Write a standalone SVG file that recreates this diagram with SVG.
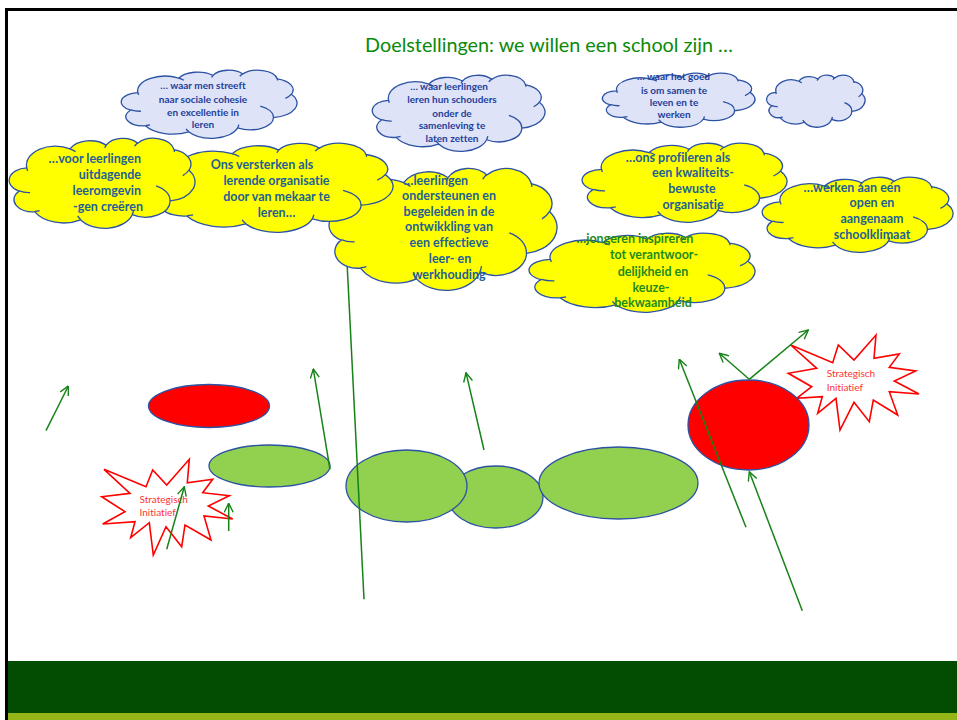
<svg xmlns="http://www.w3.org/2000/svg" xmlns:xlink="http://www.w3.org/1999/xlink" width="957" height="720" viewBox="0 0 957 720">
<style>
text{font-variant-ligatures:none;font-feature-settings:"liga" 0}
.co{stroke:#2b52a3;stroke-width:1.3;vector-effect:non-scaling-stroke}
.ci{fill:none;stroke:#2b52a3;stroke-width:1.3;vector-effect:non-scaling-stroke}
.lav{fill:#dfe3f8}
.yel{fill:#ffff00}
.t{font-family:Lato,"Liberation Sans",sans-serif;font-weight:700;text-anchor:middle}
.tl{font-size:10px;fill:#22409a}
.ty{font-size:12.5px;fill:#1f5f96}
.tg{font-size:12.5px;fill:#1d8a1d}
.ts{font-family:Lato,"Liberation Sans",sans-serif;font-size:10px;fill:#ff3333}
.title{font-family:Lato,"Liberation Sans",sans-serif;font-size:19.8px;fill:#0a8a0a;text-anchor:middle}
.star{fill:#ffffff;stroke:#ff0000;stroke-width:1.6;stroke-linejoin:miter}
.el{stroke:#2b52a3;stroke-width:1.3}
.green{fill:#92d050}
.red{fill:#ff0000}
.ar{fill:none;stroke:#178217;stroke-width:1.5;marker-end:url(#ah)}
</style>
<defs>
<marker id="ah" viewBox="0 0 10 10" refX="9.5" refY="5" markerWidth="10" markerHeight="10" markerUnits="userSpaceOnUse" orient="auto">
<path d="M0.5,0.5 L9.5,5 L0.5,9.5" fill="none" stroke="#178217" stroke-width="1.4"/>
</marker>
<symbol id="cloud" viewBox="0 0 100 100" preserveAspectRatio="none" overflow="visible">
<path class="co" d="M9.03,33.26 A15.63,21.27 0 0 1 32.42,12.04 A12.34,16.82 0 0 1 51.98,7.95 A10.10,13.76 0 0 1 69.05,5.75 A11.24,15.27 0 0 1 88.69,12.91 A12.34,16.84 0 0 1 96.79,35.79 A15.68,21.34 0 0 1 86.57,69.91 A13.39,18.21 0 0 1 66.09,85.21 A15.63,21.33 0 0 1 38.13,90.88 A17.87,24.41 0 0 1 13.41,82.09 A10.09,13.70 0 0 1 4.86,59.12 A10.06,13.76 0 0 1 9.03,33.26 Z"/>
<path class="ci" d="M10.86,60.59 A10.06,13.76 0 0 1 5.00,58.74 M16.04,80.79 A10.09,13.70 0 0 1 13.48,81.68 M38.14,90.49 A15.63,21.33 0 0 1 36.60,86.47 M66.73,80.44 A15.63,21.33 0 0 1 66.11,84.86 M79.00,53.13 A13.39,18.21 0 0 1 86.53,69.65 M96.75,35.54 A12.34,16.84 0 0 1 93.40,41.74 M88.71,12.56 A11.24,15.27 0 0 1 88.89,15.49 M67.31,9.15 A11.24,15.27 0 0 1 69.02,5.42 M51.25,10.93 A10.10,13.76 0 0 1 52.08,7.71 M32.41,12.02 A15.63,21.27 0 0 1 35.42,15.14 M9.55,36.55 A15.63,21.27 0 0 1 9.02,33.27"/>
</symbol>
</defs>

<rect x="0" y="0" width="957" height="720" fill="#ffffff"/>
<rect x="5" y="8" width="952" height="3" fill="#000000"/>
<rect x="5" y="8" width="3" height="712" fill="#000000"/>
<rect x="8" y="661" width="949" height="52" fill="#024d01"/>
<rect x="8" y="713" width="949" height="7" fill="#94b418"/>

<text class="title" x="549" y="52">Doelstellingen: we willen een school zijn …</text>

<g id="star1">
<polygon class="star" points="104,469.3 146,486.7 152.7,470 166.7,485 189.3,459.3 187.3,482.7 212.7,479.3 202.7,492.7 229.3,495.7 208.3,506 232.7,519 204,516 211,540 185,525 181.7,546.7 166,526.7 153.3,555 149.3,522.7 130.7,537.7 135,521.7 102.7,524 125,511.7 101.7,496.7 130,493.3"/>
<text class="ts" x="139.5" y="502.7">Strategisch</text>
<text class="ts" x="139.5" y="515.7">Initiatief</text>
</g>
<g id="star2">
<polygon class="star" points="790.7,345 832.7,362.7 838.3,345 854,360 876,335 874,358.3 899.3,354 889.3,367.3 915.7,371 894.3,381 919,394 889.3,391.7 897.7,415 873.3,400 869.3,421.7 854,402.3 840,430 836,398.3 817.7,413.3 822.3,396.7 796.7,398.3 811.7,386.7 788.3,373.3 816.7,368.3"/>
<text class="ts" x="826.7" y="377.3">Strategisch</text>
<text class="ts" x="826.7" y="390.7">Initiatief</text>
</g>

<g id="red-ellipse"><ellipse class="el red" cx="209" cy="406" rx="60.5" ry="21.5"/></g>
<g id="green-1"><ellipse class="el green" cx="269.5" cy="466" rx="60.5" ry="21"/></g>
<g id="green-3"><ellipse class="el green" cx="495.5" cy="497" rx="47.5" ry="31"/></g>
<g id="green-2"><ellipse class="el green" cx="406.5" cy="486" rx="60.5" ry="36"/></g>
<g id="green-4"><ellipse class="el green" cx="618.5" cy="483" rx="79.5" ry="36"/></g>
<g id="red-circle"><ellipse class="el red" cx="748.5" cy="425" rx="60.5" ry="45"/></g>

<g id="connectors">
<path class="ar" d="M46,430.7 L68.3,386"/>
<path class="ar" d="M330,469.3 L313.3,369"/>
<path class="ar" d="M364,599.3 L346.5,252"/>
<path class="ar" d="M166.7,549.3 L184.3,486.7"/>
<path class="ar" d="M228.7,531 L228.7,503.3"/>
<path class="ar" d="M484,450 L466,372.7"/>
<path class="ar" d="M746,527.3 L679.3,359.3"/>
<path class="ar" d="M802.3,610.7 L749.3,471.7"/>
<path class="ar" d="M749.3,379.3 L719.3,353.3"/>
<path class="ar" d="M749.3,379.3 L808.3,330"/>
</g>

<g id="cloud-l1">
<use xlink:href="#cloud" href="#cloud" class="lav" x="122" y="70" width="175" height="68"/>
<text class="t tl" x="203" y="89">… waar men streeft</text>
<text class="t tl" x="203" y="102.7">naar sociale cohesie</text>
<text class="t tl" x="203" y="115.7">en excellentie in</text>
<text class="t tl" x="203" y="128.3">leren</text>
</g>
<g id="cloud-l2">
<use xlink:href="#cloud" href="#cloud" class="lav" x="373" y="75" width="172" height="76"/>
<text class="t tl" x="449" y="90">… waar leerlingen</text>
<text class="t tl" x="452" y="103.3">leren hun schouders</text>
<text class="t tl" x="452" y="116.7">onder de</text>
<text class="t tl" x="452" y="129.3">samenleving te</text>
<text class="t tl" x="452" y="142">laten zetten</text>
</g>
<g id="cloud-l3">
<use xlink:href="#cloud" href="#cloud" class="lav" x="603" y="73" width="152" height="54"/>
<text class="t tl" x="673.5" y="80">… waar het goed</text>
<text class="t tl" x="674" y="94">is om samen te</text>
<text class="t tl" x="674" y="106">leven en te</text>
<text class="t tl" x="674" y="118.3">werken</text>
</g>
<g id="cloud-l4">
<use xlink:href="#cloud" href="#cloud" class="lav" x="767" y="75" width="98" height="52"/>
</g>

<g id="cloud-c">
<use xlink:href="#cloud" href="#cloud" class="yel" x="330" y="168" width="227" height="122"/>
<text class="t ty" x="436" y="185">…leerlingen</text>
<text class="t ty" x="449" y="200">ondersteunen en</text>
<text class="t ty" x="449" y="215.5">begeleiden in de</text>
<text class="t ty" x="449" y="231">ontwikkling van</text>
<text class="t ty" x="449" y="247">een effectieve</text>
<text class="t ty" x="450" y="263">leer- en</text>
<text class="t ty" x="449" y="279">werkhouding</text>
</g>
<g id="cloud-b">
<use xlink:href="#cloud" href="#cloud" class="yel" x="155" y="143" width="238" height="89"/>
<text class="t ty" x="262" y="169">Ons versterken als</text>
<text class="t ty" x="276.5" y="185">lerende organisatie</text>
<text class="t ty" x="276.5" y="201">door van mekaar te</text>
<text class="t ty" x="276.5" y="217">leren…</text>
</g>
<g id="cloud-a">
<use xlink:href="#cloud" href="#cloud" class="yel" x="10" y="138" width="185" height="90"/>
<text class="t ty" x="141" y="163" style="text-anchor:end">…voor leerlingen</text>
<text class="t ty" x="141" y="179" style="text-anchor:end">uitdagende</text>
<text class="t ty" x="141" y="194.5" style="text-anchor:end">leeromgevin</text>
<text class="t ty" x="143" y="211" style="text-anchor:end">-gen creëren</text>
</g>
<g id="cloud-f">
<use xlink:href="#cloud" href="#cloud" class="yel" x="530" y="233" width="225" height="79"/>
<text class="t tg" x="635" y="243">…jongeren inspireren</text>
<text class="t tg" x="654" y="259">tot verantwoor-</text>
<text class="t tg" x="653" y="276">delijkheid en</text>
<text class="t tg" x="651" y="292">keuze-</text>
<text class="t tg" x="653" y="307">bekwaamheid</text>
</g>
<g id="cloud-d">
<use xlink:href="#cloud" href="#cloud" class="yel" x="583" y="143" width="204" height="79"/>
<text class="t ty" x="678" y="162">…ons profileren als</text>
<text class="t ty" x="693" y="177">een kwaliteits-</text>
<text class="t ty" x="692" y="193">bewuste</text>
<text class="t ty" x="693" y="209">organisatie</text>
</g>
<g id="cloud-e">
<use xlink:href="#cloud" href="#cloud" class="yel" x="763" y="177" width="190" height="75"/>
<text class="t ty" x="852" y="192">…werken aan een</text>
<text class="t ty" x="872" y="207">open en</text>
<text class="t ty" x="872" y="223">aangenaam</text>
<text class="t ty" x="872" y="239">schoolklimaat</text>
</g>
</svg>
